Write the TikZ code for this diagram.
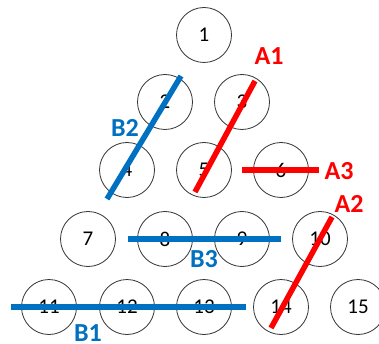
\documentclass[tikz,border=0pt]{standalone}
\usepackage{fontspec}
\setmainfont{Carlito}
\definecolor{rosso}{RGB}{255,0,0}
\definecolor{blu}{RGB}{0,112,192}
\tikzset{
  palla/.style={circle,draw=black!80,line width=0.8pt,minimum size=55pt,inner sep=0pt,font=\fontsize{21}{21}\selectfont},
  taglioA/.style={rosso,line width=5.5pt},
  taglioB/.style={blu,line width=5.5pt},
  etA/.style={rosso,font=\fontsize{26}{26}\selectfont\bfseries},
  etB/.style={blu,font=\fontsize{26}{26}\selectfont\bfseries}
}
\begin{document}
\begin{tikzpicture}[x=1pt,y=-1pt]
            \useasboundingbox (0,0) rectangle (379,344);
            % Palline
            \foreach \n/\x/\y in {1/204/35,
              2/165/102, 3/242/102,
              4/127/170, 5/204/170, 6/281/170,
              7/88/239, 8/165/239, 9/242/239, 10/320/239,
              11/49/307, 12/127/307, 13/204/307, 14/281/307, 15/358/307}
              \node[palla] (c\n) at (\x,\y) {\n};
            % Estremi dei tagli
            \coordinate (a1s) at (255,81);
            \coordinate (a1e) at (195,192);
            \coordinate (a2s) at (332,217);
            \coordinate (a2e) at (271,328);
            \coordinate (a3s) at (242,170);
            \coordinate (a3e) at (319,170);
            \coordinate (b1s) at (11,307);
            \coordinate (b1e) at (246,307);
            \coordinate (b2s) at (181,76);
            \coordinate (b2e) at (107,199);
            \coordinate (b3s) at (128,239);
            \coordinate (b3e) at (281,239);
            % Tagli
            \draw[taglioA] (a1s) -- (a1e);
            \draw[taglioA] (a2s) -- (a2e);
            \draw[taglioA] (a3s) -- (a3e);
            \draw[taglioB] (b1s) -- (b1e);
            \draw[taglioB] (b2s) -- (b2e);
            \draw[taglioB] (b3s) -- (b3e);
            % Etichette
            \node[etA] (lA1) at (269,56) {A1};
            \node[etA] (lA2) at (349,204) {A2};
            \node[etA] (lA3) at (339,171) {A3};
            \node[etB] (lB1) at (88,333) {B1};
            \node[etB] (lB2) at (125,128) {B2};
            \node[etB] (lB3) at (204,259) {B3};
\end{tikzpicture}
\end{document}
